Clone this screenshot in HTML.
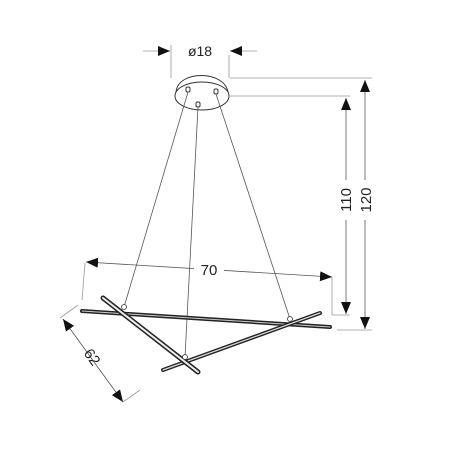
<!DOCTYPE html>
<html><head><meta charset="utf-8"><style>
html,body{margin:0;padding:0;background:#fff}
svg{display:block}
text{font-family:"Liberation Sans",sans-serif;fill:#222}
</style></head><body>
<svg width="452" height="452" viewBox="0 0 452 452">
<defs><marker id="ar" viewBox="0 0 12 10" refX="12" refY="5" markerWidth="12" markerHeight="10" markerUnits="userSpaceOnUse" orient="auto-start-reverse"><path d="M0,0L12,5L0,10z" fill="#111"/></marker></defs>
<g stroke="#999" stroke-width="0.8" fill="none">
<line x1="171" y1="45" x2="171" y2="78"/><line x1="229" y1="55" x2="229" y2="78"/>
<line x1="143" y1="51" x2="160" y2="51"/><line x1="240" y1="51" x2="257" y2="51"/>
<line x1="230" y1="78" x2="372" y2="78"/><line x1="230" y1="96" x2="350" y2="96"/>
<line x1="337" y1="330" x2="372" y2="330"/><line x1="332" y1="315" x2="350" y2="315"/>
<line x1="85" y1="263" x2="82" y2="300"/><line x1="332" y1="277" x2="332" y2="315"/>
<line x1="60" y1="318" x2="78" y2="305"/><line x1="123" y1="402" x2="140" y2="390"/>
</g>
<g stroke="#555" stroke-width="0.8">
<line x1="158" y1="51" x2="170" y2="51" marker-end="url(#ar)"/>
<line x1="242" y1="51" x2="230" y2="51" marker-end="url(#ar)"/>
<line x1="365" y1="80" x2="365" y2="329" marker-start="url(#ar)" marker-end="url(#ar)"/>
<line x1="346" y1="98" x2="346" y2="314" marker-start="url(#ar)" marker-end="url(#ar)"/>
<line x1="86" y1="262" x2="332" y2="277" marker-start="url(#ar)" marker-end="url(#ar)"/>
<line x1="63" y1="319" x2="123" y2="402" marker-start="url(#ar)" marker-end="url(#ar)"/>
</g>
<rect x="194" y="261" width="30" height="16" fill="#fff"/>
<rect x="356" y="180" width="20" height="40" fill="#fff"/>
<rect x="337" y="180" width="18" height="40" fill="#fff"/>
<text x="200" y="56" font-size="14" text-anchor="middle">ø18</text>
<text x="209" y="275" font-size="15" text-anchor="middle">70</text>
<text transform="translate(351,200) rotate(-90)" font-size="15" text-anchor="middle">110</text>
<text transform="translate(371,200) rotate(-90)" font-size="15" text-anchor="middle">120</text>
<text transform="translate(88,360) rotate(54)" font-size="15" text-anchor="middle">62</text>
<g stroke="#333" stroke-width="1" fill="#fff">
<path d="M176,92 C178,70 224,70 228,92"/>
<ellipse cx="202" cy="96" rx="27" ry="14"/>
<rect x="186" y="87" width="4" height="5" rx="1.5"/><rect x="214" y="89" width="4" height="5" rx="1.5"/><rect x="196" y="102" width="4" height="5" rx="1.5"/>
</g>
<g stroke="#555" stroke-width="0.8">
<line x1="188" y1="92" x2="124" y2="307"/><line x1="216" y1="94" x2="290" y2="319"/><line x1="198" y1="107" x2="185" y2="357"/>
</g>
<g stroke-linecap="round">
<line x1="82" y1="311" x2="330" y2="327" stroke="#222" stroke-width="4"/><line x1="82" y1="311" x2="330" y2="327" stroke="#ccc" stroke-width="1"/>
<line x1="163" y1="370" x2="320" y2="313" stroke="#222" stroke-width="4"/><line x1="163" y1="370" x2="320" y2="313" stroke="#ddd" stroke-width="1.2"/>
<line x1="103" y1="298" x2="198" y2="372" stroke="#222" stroke-width="5"/><line x1="103" y1="298" x2="198" y2="372" stroke="#eee" stroke-width="2"/>
</g>
<g fill="#fff" stroke="#333" stroke-width="0.8"><circle cx="124" cy="307" r="2.5"/><circle cx="290" cy="319" r="2.5"/><circle cx="185" cy="357" r="2.5"/></g>
</svg>
</body></html>
